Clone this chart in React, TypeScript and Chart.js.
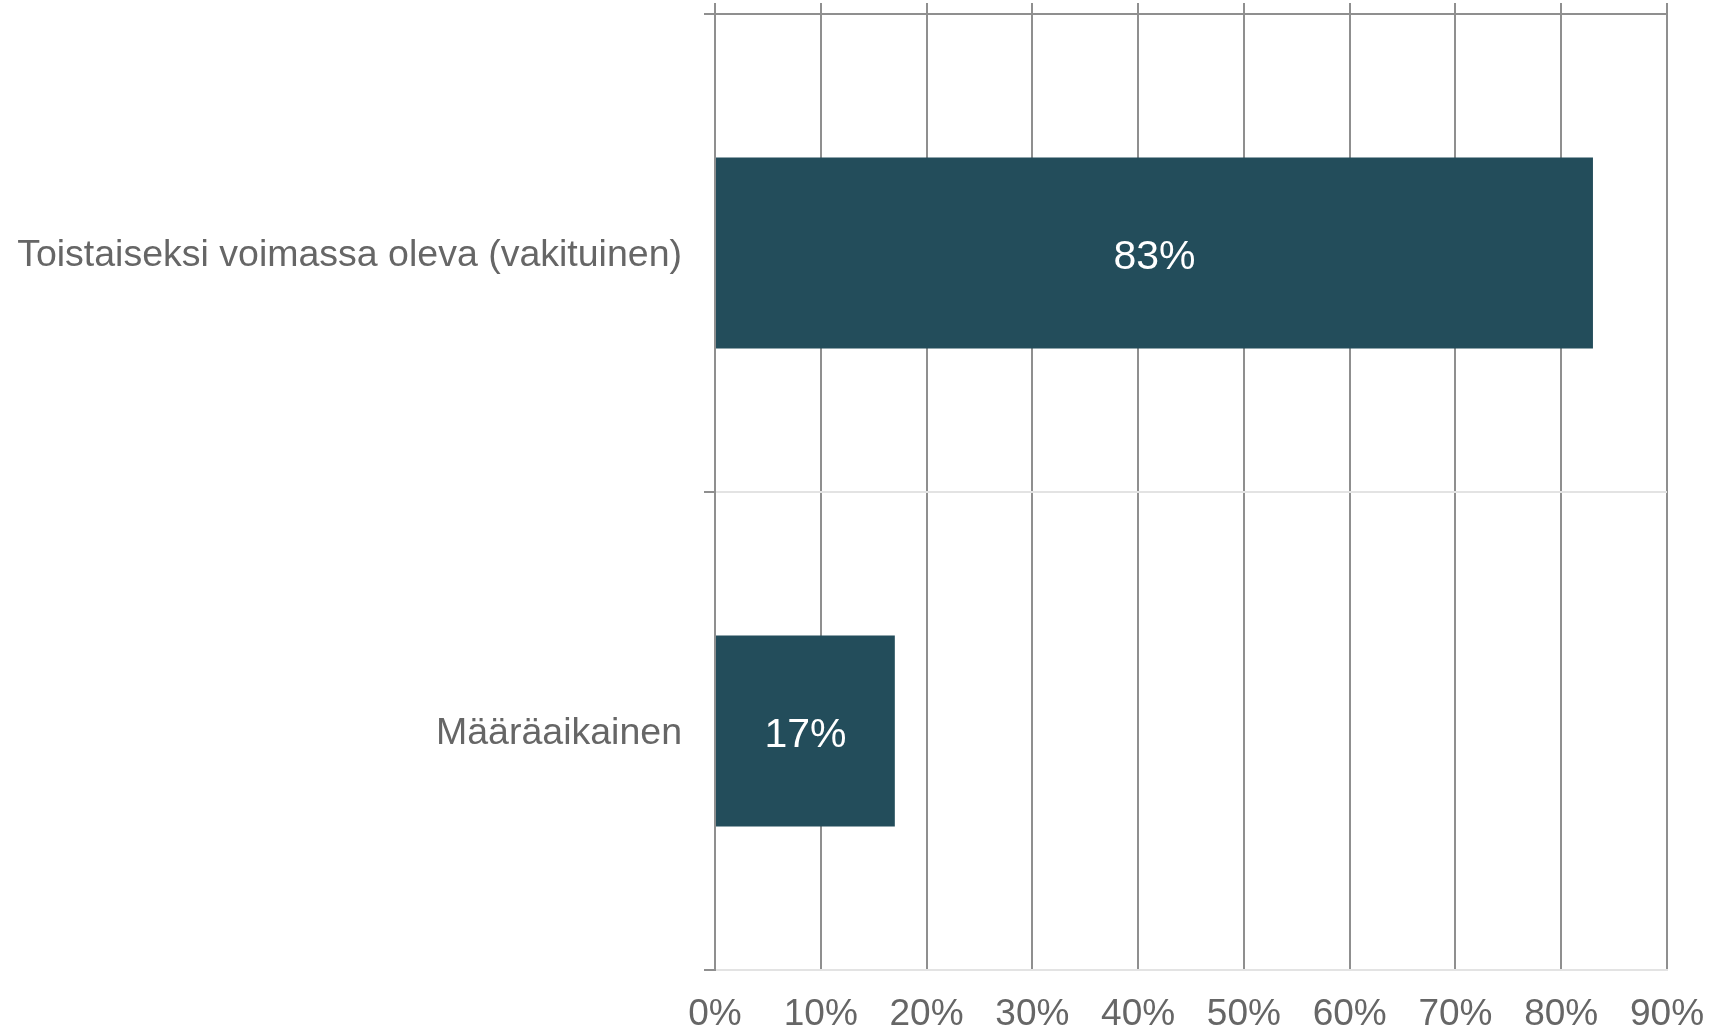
import React, { useEffect, useRef } from "react";
import { Chart, registerables } from "chart.js";

Chart.register(...registerables);

const categories = ["Toistaiseksi voimassa oleva (vakituinen)", "Määräaikainen"];
const values = [83, 17];
const xMin = 0;
const xMax = 90;
const xStep = 10;

const BAR_COLOR = "#234D5B";
const DARK_GRID = "#8f8f8f";
const LIGHT_GRID = "#e3e3e3";
const TEXT_COLOR = "#666666";
const FONT = "'Liberation Sans', Arial, sans-serif";

const dataLabelPlugin = {
  id: "dataLabels",
  afterDatasetsDraw(chart: any) {
    const ctx = chart.ctx;
    const meta = chart.getDatasetMeta(0);
    ctx.save();
    ctx.fillStyle = "#ffffff";
    ctx.font = `41px ${FONT}`;
    ctx.textAlign = "center";
    ctx.textBaseline = "middle";
    meta.data.forEach((el: any, i: number) => {
      const { x, y, base } = el.getProps(["x", "y", "base"], true);
      ctx.fillText(`${values[i]}%`, (x + base) / 2, y + 5);
    });
    ctx.restore();
  },
};

export default function App() {
  const ref = useRef<HTMLCanvasElement | null>(null);

  useEffect(() => {
    if (!ref.current) return;
    const chart = new Chart(ref.current, {
      type: "bar",
      data: {
        labels: categories,
        datasets: [
          {
            data: values,
            backgroundColor: BAR_COLOR,
            borderWidth: 0,
            categoryPercentage: 1,
            barPercentage: 0.4,
            xAxisID: "x",
          },
        ],
      },
      options: {
        indexAxis: "y",
        responsive: false,
        animation: false,
        layout: { padding: { top: 3, right: 44, left: 0, bottom: 0 } },
        plugins: {
          legend: { display: false },
          tooltip: { enabled: false },
        },
        scales: {
          x: {
            type: "linear",
            position: "bottom",
            min: xMin,
            max: xMax,
            ticks: {
              stepSize: xStep,
              padding: 23,
              color: TEXT_COLOR,
              font: { family: FONT, size: 37 },
              callback: (v: any) => `${v}%`,
            },
            grid: {
              color: DARK_GRID,
              lineWidth: 2,
              drawTicks: false,
            },
            border: { display: true, color: LIGHT_GRID, width: 2 },
            afterFit: (scale: any) => {
              scale.height = 66;
              scale.paddingRight = 0;
              scale.paddingLeft = 0;
            },
          },
          x2: {
            type: "linear",
            position: "top",
            min: xMin,
            max: xMax,
            ticks: { stepSize: xStep, display: false },
            grid: {
              color: DARK_GRID,
              lineWidth: 2,
              drawOnChartArea: false,
              drawTicks: true,
              tickLength: 11,
            },
            border: { display: true, color: DARK_GRID, width: 2 },
            afterFit: (scale: any) => {
              scale.paddingRight = 0;
              scale.paddingLeft = 0;
            },
          },
          y: {
            type: "category",
            position: "left",
            offset: true,
            ticks: {
              padding: 22,
              labelOffset: 3,
              color: TEXT_COLOR,
              font: { family: FONT, size: 37.5 },
            },
            grid: {
              offset: true,
              lineWidth: 2,
              color: (c: any) => (c.index === 0 ? DARK_GRID : LIGHT_GRID),
              tickColor: DARK_GRID,
              drawTicks: true,
              tickLength: 11,
            },
            border: { display: true, color: DARK_GRID, width: 2 },
            afterFit: (scale: any) => {
              scale.width = 715;
              scale.paddingTop = 0;
              scale.paddingBottom = 0;
            },
          },
        },
      },
      plugins: [dataLabelPlugin],
    } as any);
    return () => chart.destroy();
  }, []);

  return (
    <div style={{ position: "absolute", left: 0, top: 0, width: 1711, height: 1036, background: "#fff" }}>
      <canvas ref={ref} width={1711} height={1036} style={{ display: "block" }} />
    </div>
  );
}
